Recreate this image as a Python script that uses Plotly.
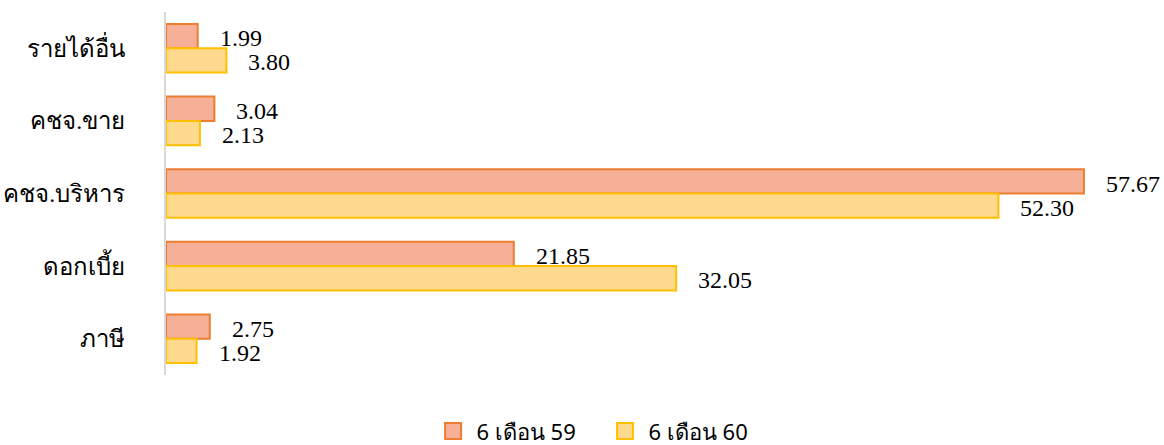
import plotly.graph_objects as go

categories = ["รายได้อื่น", "คชจ.ขาย", "คชจ.บริหาร", "ดอกเบี้ย", "ภาษี"]
series_names = ["6 เดือน 59", "6 เดือน 60"]
values_59 = [1.99, 3.04, 57.67, 21.85, 2.75]
values_60 = [3.80, 2.13, 52.30, 32.05, 1.92]

fills = ["#F5B097", "#FFD98E"]
borders = ["#ED7D31", "#FFC000"]

fig = go.Figure()
for name, vals, fc, bc in zip(series_names, [values_59, values_60], fills, borders):
    fig.add_trace(go.Bar(
        y=categories, x=vals, name=name, orientation="h",
        marker=dict(color=fc, line=dict(color=bc, width=2)),
        hoverinfo="x+name", showlegend=False, legendgroup=name,
    ))
# legend entries with larger square swatches
for name, fc, bc in zip(series_names, fills, borders):
    fig.add_trace(go.Scatter(
        x=[None], y=[None], mode="markers", name=name, legendgroup=name,
        marker=dict(symbol="square", size=21, color=fc, line=dict(color=bc, width=2)),
        showlegend=True,
    ))

annotations = []
for i, vals in enumerate([values_59, values_60]):
    shift = 10 if i == 0 else -14
    for c, v in zip(categories, vals):
        annotations.append(dict(
            x=v, y=c, xref="x", yref="y", text=f"{v:.2f}", showarrow=False,
            xanchor="left", yanchor="middle", xshift=20, yshift=shift,
            font=dict(family="Liberation Serif, Times New Roman, serif", size=24, color="#000000"),
        ))

fig.update_layout(
    width=1164, height=445,
    margin=dict(l=166, r=43, t=12, b=70, autoexpand=False),
    paper_bgcolor="white", plot_bgcolor="white",
    barmode="group", bargap=0.33, bargroupgap=0,
    showlegend=True,
    legend=dict(orientation="h", x=0.276, xanchor="left", y=-0.155, yanchor="middle",
                font=dict(family="Noto Sans, Tahoma, sans-serif", size=22, color="#000000"),
                itemwidth=37, entrywidth=120, traceorder="normal"),
    annotations=annotations,
    xaxis=dict(range=[0, 60], showgrid=False, showticklabels=False, zeroline=False, showline=False,
               fixedrange=True, automargin=False),
    yaxis=dict(autorange="reversed", type="category", showline=True, linecolor="#D9D9D9", linewidth=2,
               ticks="", ticklabelstandoff=34, automargin=False,
               tickfont=dict(family="Liberation Serif, Times New Roman, serif", size=24, color="#000000")),
)

fig.write_html("out.html", config={"displayModeBar": False},
               post_script="document.body.style.margin='0';")
